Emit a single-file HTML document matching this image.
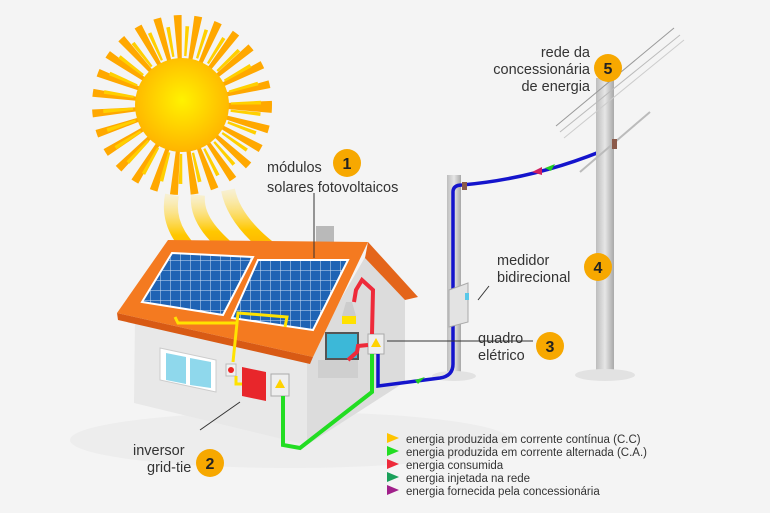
<!DOCTYPE html>
<html><head><meta charset="utf-8"><style>
html,body{margin:0;padding:0;background:#f4f4f4}
svg{display:block}
text{font-family:"Liberation Sans",sans-serif;fill:#333}
</style></head><body>
<svg width="770" height="513" viewBox="0 0 770 513" xmlns="http://www.w3.org/2000/svg">
<defs>
<radialGradient id="sg" cx="50%" cy="45%" r="55%"><stop offset="0" stop-color="#fff200"/><stop offset="1" stop-color="#ffb400"/></radialGradient>
<linearGradient id="beam" x1="0" y1="0" x2="0" y2="1"><stop offset="0" stop-color="#ffe680" stop-opacity="0.3"/><stop offset="0.5" stop-color="#ffc800"/><stop offset="1" stop-color="#ff9a00"/></linearGradient>
<linearGradient id="pole" x1="0" x2="1"><stop offset="0" stop-color="#bdbdbd"/><stop offset="0.5" stop-color="#e6e6e6"/><stop offset="1" stop-color="#a8a8a8"/></linearGradient>
<pattern id="cells" width="10" height="10" patternUnits="userSpaceOnUse"><rect width="10" height="10" fill="#1f63b4"/><path d="M0 0H10M0 0V10" stroke="#cfe0f5" stroke-width="1"/></pattern>
</defs>
<rect width="770" height="513" fill="#f4f4f4"/>
<ellipse cx="290" cy="440" rx="220" ry="28" fill="#ededed"/>

<!-- sun -->
<circle cx="182" cy="105" r="68" fill="none" stroke="#ffa800" stroke-width="44" stroke-dasharray="6 9.7"/>
<circle cx="182" cy="105" r="64" fill="none" stroke="#ffd000" stroke-width="30" stroke-dasharray="3 12.7" stroke-dashoffset="-6"/>
<circle cx="182" cy="105" r="47" fill="url(#sg)"/>

<!-- beams -->
<path d="M172 195 C165 230 190 250 215 275" stroke="url(#beam)" stroke-width="14" fill="none"/>
<path d="M198 195 C195 225 225 245 250 268" stroke="url(#beam)" stroke-width="14" fill="none"/>
<path d="M228 190 C235 225 270 250 300 270" stroke="url(#beam)" stroke-width="14" fill="none"/>

<!-- house -->
<polygon points="368,252 405,296 405,382 307,445 307,358" fill="#dcdcdc"/>
<polygon points="135,318 307,358 307,445 134,403" fill="#e8e8e8"/>
<rect x="316" y="226" width="18" height="22" fill="#b9b9b9"/>
<polygon points="168,240 368,242 313,357 117,313" fill="#f47a20"/>
<polygon points="368,242 418,297 405,300 365,258" fill="#e4651a"/>
<polygon points="117,313 313,357 310,364 118,320" fill="#d85a14"/>
<polygon points="172,253 253,257 223,315 142,302" fill="url(#cells)" stroke="#fff" stroke-width="2"/>
<polygon points="258,260 348,260 313,330 232,318" fill="url(#cells)" stroke="#fff" stroke-width="2"/>
<!-- window -->
<polygon points="160,348 216,360 216,392 160,380" fill="#fff" stroke="#ccc"/>
<polygon points="166,353 186,357 186,384 166,380" fill="#8fd8ec"/>
<polygon points="190,358 211,362 211,388 190,385" fill="#8fd8ec"/>
<!-- devices -->
<rect x="226" y="364" width="10" height="12" fill="#f0f0f0" stroke="#bbb"/>
<circle cx="231" cy="370" r="3" fill="#e22"/>
<polygon points="242,367 266,372 266,401 242,396" fill="#e8262b"/>
<rect x="271" y="374" width="18" height="22" fill="#eee" stroke="#aaa"/>
<polygon points="280,379 285,388 275,388" fill="#ffd200"/>
<rect x="326" y="333" width="32" height="26" fill="#3cb8d8" stroke="#555" stroke-width="2"/>
<rect x="318" y="360" width="40" height="18" fill="#cfcfcf"/>
<polygon points="346,302 352,302 356,316 342,316" fill="#ccc"/>
<rect x="342" y="316" width="14" height="8" fill="#ffe100"/>
<rect x="368" y="334" width="16" height="20" fill="#eee" stroke="#aaa"/>
<polygon points="376,338 381,347 371,347" fill="#ffd200"/>
<!-- wires -->
<path d="M175 317 L178 323 L237 323 L238 313 L287 317 L285 327 M237 323 L233 362 M236 376 L236 384 L242 384" stroke="#ffe200" stroke-width="3" fill="none"/>
<path d="M283 396 L283 445 L300 448 L372 392 L372 354" stroke="#22dd22" stroke-width="4" fill="none"/>
<path d="M372 334 L373 290 L362 280 L356 290 L354 302 M368 345 L358 346 L357 352 L348 360" stroke="#ee2a3a" stroke-width="4" fill="none"/>

<!-- small pole -->
<rect x="447" y="175" width="14" height="200" fill="url(#pole)"/>
<ellipse cx="454" cy="376" rx="22" ry="5" fill="#e2e2e2"/>
<path d="M378 354 L378 386 L440 378 Q453 376 453 364 L453 192 Q453 185 462 185 C520 180 570 165 614 146" stroke="#1414cc" stroke-width="3.5" fill="none"/>
<polygon points="425,377 415,380 418,384" fill="#22cc22"/>
<polygon points="532,172 542,167 542,175" fill="#d02060"/>
<polygon points="545,168 555,164 551,171" fill="#22cc22"/>
<rect x="462" y="182" width="5" height="8" fill="#8b5a4a"/>
<polygon points="449,290 468,283 468,322 449,327" fill="#e3e3e3" stroke="#aaa"/>
<rect x="465" y="293" width="4" height="7" fill="#5ac8e8"/>
<!-- big pole -->
<rect x="596" y="78" width="18" height="294" fill="url(#pole)"/>
<ellipse cx="605" cy="375" rx="30" ry="6" fill="#e2e2e2"/>
<g stroke="#999" stroke-width="1" fill="none">
<path d="M556 126 L674 28"/><path d="M560 132 L680 35" stroke="#bbb"/><path d="M564 138 L684 40" stroke="#ccc"/>
<path d="M580 172 L650 112" stroke="#bbb" stroke-width="2"/>
</g>
<rect x="612" y="139" width="5" height="10" fill="#8b5a4a"/>

<!-- label connectors -->
<g stroke="#333" stroke-width="1">
<path d="M314 193 L314 258"/><path d="M387 341 L533 341"/><path d="M489 286 L478 300"/><path d="M200 430 L240 402"/>
</g>

<!-- labels -->
<g font-size="14.5">
<text x="267" y="172">módulos</text>
<text x="267" y="192">solares fotovoltaicos</text>
<text x="590" y="57" text-anchor="end">rede da</text>
<text x="590" y="74" text-anchor="end">concessionária</text>
<text x="590" y="91" text-anchor="end">de energia</text>
<text x="497" y="265">medidor</text>
<text x="497" y="282">bidirecional</text>
<text x="478" y="343">quadro</text>
<text x="478" y="360">elétrico</text>
<text x="133" y="455">inversor</text>
<text x="147" y="472">grid-tie</text>
</g>
<g font-size="16" font-weight="bold" text-anchor="middle">
<circle cx="347" cy="163" r="14" fill="#f7a800"/><text x="347" y="169" style="fill:#222">1</text>
<circle cx="210" cy="463" r="14" fill="#f7a800"/><text x="210" y="469" style="fill:#222">2</text>
<circle cx="550" cy="346" r="14" fill="#f7a800"/><text x="550" y="352" style="fill:#222">3</text>
<circle cx="598" cy="267" r="14" fill="#f7a800"/><text x="598" y="273" style="fill:#222">4</text>
<circle cx="608" cy="68" r="14" fill="#f7a800"/><text x="608" y="74" style="fill:#222">5</text>
</g>

<!-- legend -->
<g font-size="11.5">
<polygon points="387,433 399,438 387,443" fill="#ffc400"/><text x="406" y="443">energia produzida em corrente contínua (C.C)</text>
<polygon points="387,446 399,451 387,456" fill="#22dd22"/><text x="406" y="456">energia produzida em corrente alternada (C.A.)</text>
<polygon points="387,459 399,464 387,469" fill="#ee2a3a"/><text x="406" y="469">energia consumida</text>
<polygon points="387,472 399,477 387,482" fill="#1aa05a"/><text x="406" y="482">energia injetada na rede</text>
<polygon points="387,485 399,490 387,495" fill="#a0208a"/><text x="406" y="495">energia fornecida pela concessionária</text>
</g>
</svg>
</body></html>
